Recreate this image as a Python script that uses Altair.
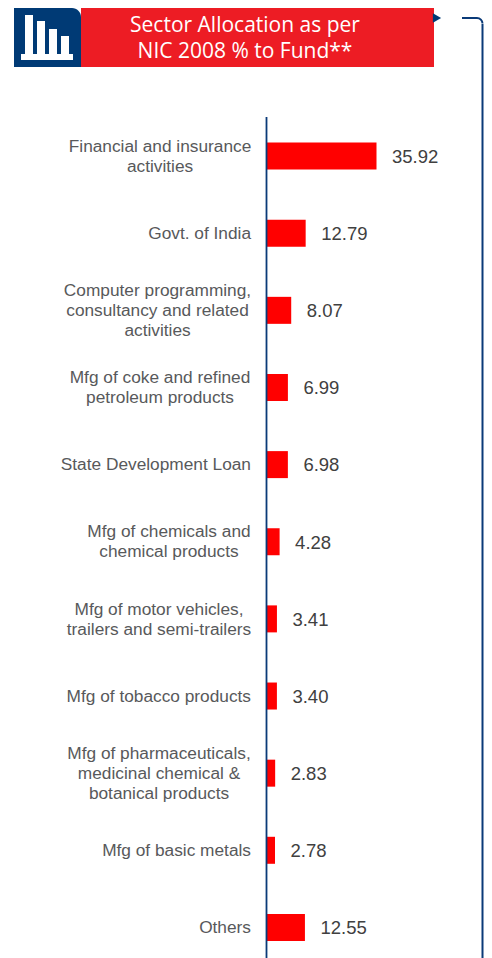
import altair as alt
import pandas as pd

# ---- data ----
categories = [
    "Financial and insurance activities", "Govt. of India",
    "Computer programming, consultancy and related activities",
    "Mfg of coke and refined petroleum products", "State Development Loan",
    "Mfg of chemicals and chemical products",
    "Mfg of motor vehicles, trailers and semi-trailers",
    "Mfg of tobacco products",
    "Mfg of pharmaceuticals, medicinal chemical & botanical products",
    "Mfg of basic metals", "Others",
]
values = [35.92, 12.79, 8.07, 6.99, 6.98, 4.28, 3.41, 3.40, 2.83, 2.78, 12.55]
value_labels = ["35.92", "12.79", "8.07", "6.99", "6.98", "4.28", "3.41", "3.40", "2.83", "2.78", "12.55"]
label_lines = [
    ["Financial and insurance", "activities"], ["Govt. of India"],
    ["Computer programming,", "consultancy and related", "activities"],
    ["Mfg of coke and refined", "petroleum products"], ["State Development Loan"],
    ["Mfg of chemicals and", "chemical products"],
    ["Mfg of motor vehicles,", "trailers and semi-trailers"],
    ["Mfg of tobacco products"],
    ["Mfg of pharmaceuticals,", "medicinal chemical &", "botanical products"],
    ["Mfg of basic metals"], ["Others"],
]
title_lines = ["Sector Allocation as per", "NIC 2008 % to Fund**"]

# ---- layout (page px minus the 8px margin) ----
label_centers = [152, 243, 149.5, 152, 243, 161, 151, 243, 151, 243, 243]
NAVY = "#0a3a78"
RED = "#ed1c24"

df = pd.DataFrame({"cat": categories, "val": values, "txt": value_labels})
y_enc = alt.Y("cat:N", sort=None, axis=None,
              scale=alt.Scale(domain=categories, range=[109.5, 958.0]))
x_enc = alt.X("val:Q", axis=None, scale=alt.Scale(domain=[0, 80], range=[258.5, 503.5]))

one = alt.Data(values=[{"a": 0}])

def box(x, x2, y, y2, color, **kw):
    return alt.Chart(one).mark_rect(color=color, clip=False, **kw).encode(
        x=alt.value(x), x2=alt.value(x2), y=alt.value(y), y2=alt.value(y2))

layers = [
    box(73, 426, 0, 59, RED),
    box(6, 73, 0, 59, "#003a75", cornerRadiusTopRight=9),
    # icon
    box(13, 65, 46, 52, "#ffffff"),
    box(17, 25, 7, 46, "#ffffff"),
    box(29, 37, 13, 46, "#ffffff"),
    box(41, 49, 21, 46, "#ffffff"),
    box(53, 61, 28, 46, "#ffffff"),
    # triangle and bracket
    alt.Chart(one).mark_point(shape="triangle-right", filled=True, color="#003a75", size=90, opacity=1).encode(
        x=alt.value(429), y=alt.value(10)),
    box(454, 469, 9, 11, NAVY),
    box(473.5, 475.5, 16, 950, NAVY),
    alt.Chart(one).mark_arc(color=NAVY, innerRadius=4.5, outerRadius=6.5, theta=0, theta2=1.5708).encode(
        x=alt.value(469), y=alt.value(15.5)),
]
for i, t in enumerate(title_lines):
    layers.append(alt.Chart(one).mark_text(
        text=t, font="Open Sans", fontSize=21, color="#ffffff", align="center", baseline="middle"
    ).encode(x=alt.value(237), y=alt.value(18 + 26 * i)))

layers.append(alt.Chart(df).mark_bar(size=27, color="#ff0000").encode(x=x_enc, y=y_enc))
layers.append(alt.Chart(one).mark_rule(color=NAVY, strokeWidth=1.8).encode(
    x=alt.value(258.5), y=alt.value(109), y2=alt.value(950)))
layers.append(alt.Chart(df).mark_text(
    align="left", baseline="middle", dx=15.5, dy=0.8, font="Liberation Sans", fontSize=18.5, color="#404040"
).encode(x=x_enc, y=y_enc, text="txt:N"))

for cat, lines, cx in zip(categories, label_lines, label_centers):
    row = pd.DataFrame({"cat": [cat], "lines": [lines]})
    layers.append(alt.Chart(row).mark_text(
        align="right" if len(lines) == 1 else "center", baseline="middle", lineHeight=20,
        dy=-10 * (len(lines) - 1) + 0.7,
        font="Liberation Sans", fontSize=17.3, color="#58595b"
    ).encode(x=alt.value(cx), y=y_enc, text="lines:N"))

chart = alt.layer(*layers).properties(
    width=476, height=950, padding=0,
    autosize=alt.AutoSizeParams(type="none"), background="#ffffff",
).configure_view(stroke=None)

chart.save("out.html", embed_options={"renderer": "svg", "actions": False})
